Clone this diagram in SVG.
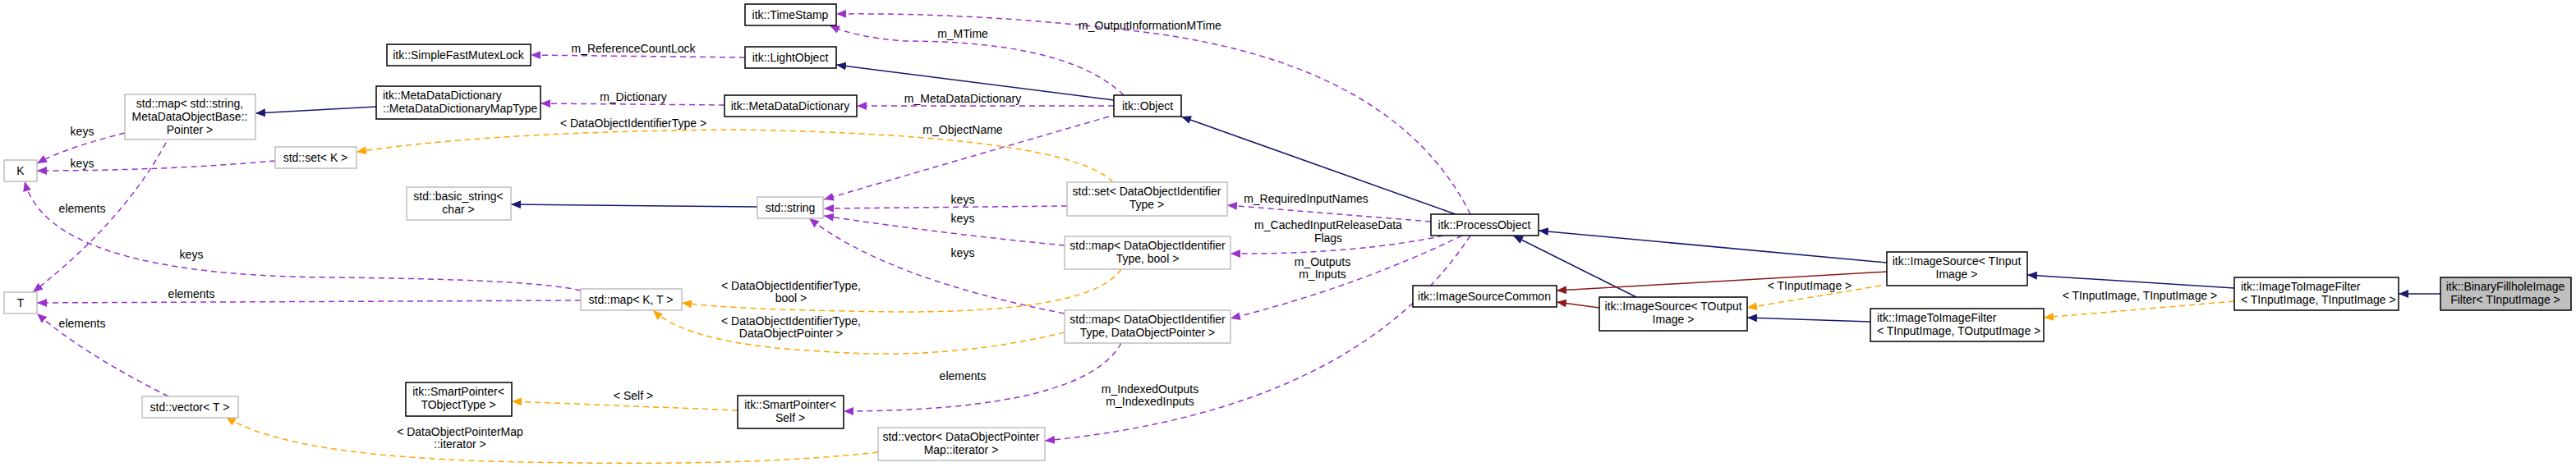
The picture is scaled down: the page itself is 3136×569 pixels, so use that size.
<svg xmlns="http://www.w3.org/2000/svg" width="3136" height="569" viewBox="0 0 3136 569">
<style>
text{font-family:"Liberation Sans",Arial,sans-serif;font-size:14px;fill:#000}
.n rect{fill:#fff;stroke:#000;stroke-width:1.5}
.g rect{fill:#fff;stroke:#bfbfbf;stroke-width:1.5}
.m{text-anchor:middle}
.e path{fill:none;stroke-width:1.5}
.p{stroke:#9a32cd;stroke-dasharray:7,5}
.o{stroke:#ffa500;stroke-dasharray:7,5}
.b{stroke:#191970}
.r{stroke:#8b1a1a}
</style>
<defs>
<marker id="ap" markerWidth="12" markerHeight="10" refX="12" refY="5" orient="auto" markerUnits="userSpaceOnUse"><path d="M0,0L12,5L0,10z" fill="#9a32cd"/></marker>
<marker id="ao" markerWidth="12" markerHeight="10" refX="12" refY="5" orient="auto" markerUnits="userSpaceOnUse"><path d="M0,0L12,5L0,10z" fill="#ffa500"/></marker>
<marker id="ab" markerWidth="12" markerHeight="10" refX="12" refY="5" orient="auto" markerUnits="userSpaceOnUse"><path d="M0,0L12,5L0,10z" fill="#191970"/></marker>
<marker id="ar" markerWidth="12" markerHeight="10" refX="12" refY="5" orient="auto" markerUnits="userSpaceOnUse"><path d="M0,0L12,5L0,10z" fill="#8b1a1a"/></marker>
</defs>
<g id="edges" class="e">
<path class="p" marker-end="url(#ap)" d="M907,70 L646,67"/>
<path class="b" marker-end="url(#ab)" d="M1356,122 L1018,79"/>
<path class="p" marker-end="url(#ap)" d="M1368,116 Q1300,50 1100,50 Q1040,45 1010,31"/>
<path class="p" marker-end="url(#ap)" d="M1790,261 Q1700,80 1400,40 Q1200,15 1018,17"/>
<path class="p" marker-end="url(#ap)" d="M1356,129 L1043,129"/>
<path class="p" marker-end="url(#ap)" d="M882,128 L658,126"/>
<path class="b" marker-end="url(#ab)" d="M458,130 L311,138"/>
<path class="p" marker-end="url(#ap)" d="M152,162 Q80,180 45,199"/>
<path class="p" marker-end="url(#ap)" d="M202,174 Q150,270 40,356"/>
<path class="p" marker-end="url(#ap)" d="M335,196 Q200,208 45,208"/>
<path class="o" marker-end="url(#ao)" d="M1355,222 Q1300,165 900,158 Q600,160 434,185"/>
<path class="p" marker-end="url(#ap)" d="M1350,142 Q1150,200 1003,243"/>
<path class="b" marker-end="url(#ab)" d="M922,252 L622,249"/>
<path class="p" marker-end="url(#ap)" d="M1299,251 L1003,254"/>
<path class="p" marker-end="url(#ap)" d="M1296,299 Q1150,285 1003,263"/>
<path class="p" marker-end="url(#ap)" d="M1296,382 Q1080,340 985,266"/>
<path class="p" marker-end="url(#ap)" d="M707,354 Q650,340 400,338 Q60,335 30,221"/>
<path class="p" marker-end="url(#ap)" d="M707,366 L45,369"/>
<path class="p" marker-end="url(#ap)" d="M205,483 Q100,430 45,382"/>
<path class="o" marker-end="url(#ao)" d="M1365,328 Q1330,380 1100,380 Q900,378 830,369"/>
<path class="o" marker-end="url(#ao)" d="M1296,405 Q1150,440 1000,428 Q840,420 795,378"/>
<path class="p" marker-end="url(#ap)" d="M1365,418 Q1320,500 1027,501"/>
<path class="o" marker-end="url(#ao)" d="M898,500 L623,489"/>
<path class="o" marker-end="url(#ao)" d="M1069,551 Q900,570 600,562 Q350,555 275,508"/>
<path class="p" marker-end="url(#ap)" d="M1790,287 Q1650,500 1272,537"/>
<path class="p" marker-end="url(#ap)" d="M1742,270 L1494,250"/>
<path class="p" marker-end="url(#ap)" d="M1757,287 Q1650,310 1498,309"/>
<path class="p" marker-end="url(#ap)" d="M1780,287 Q1650,350 1498,388"/>
<path class="b" marker-end="url(#ab)" d="M1772,261 L1438,142"/>
<path class="b" marker-end="url(#ab)" d="M2297,320 L1873,281"/>
<path class="b" marker-end="url(#ab)" d="M1992,362 L1842,287"/>
<path class="r" marker-end="url(#ar)" d="M2297,331 L1895,354"/>
<path class="r" marker-end="url(#ar)" d="M1947,375 L1895,368"/>
<path class="o" marker-end="url(#ao)" d="M2290,348 L2127,375"/>
<path class="b" marker-end="url(#ab)" d="M2277,392 L2127,387"/>
<path class="b" marker-end="url(#ab)" d="M2720,351 L2468,335"/>
<path class="o" marker-end="url(#ao)" d="M2720,367 L2488,387"/>
<path class="b" marker-end="url(#ab)" d="M2971,358 L2920,358"/>
<g class="m">
<text x="771" y="64">m_ReferenceCountLock</text>
<text x="1172" y="46">m_MTime</text>
<text x="1400" y="36">m_OutputInformationMTime</text>
<text x="1172" y="125">m_MetaDataDictionary</text>
<text x="771" y="123">m_Dictionary</text>
<text x="100" y="165">keys</text>
<text x="100" y="259">elements</text>
<text x="100" y="204">keys</text>
<text x="771" y="155">&lt; DataObjectIdentifierType &gt;</text>
<text x="1172" y="163">m_ObjectName</text>
<text x="1172" y="248">keys</text>
<text x="1172" y="271">keys</text>
<text x="1172" y="313">keys</text>
<text x="233" y="315">keys</text>
<text x="233" y="363">elements</text>
<text x="100" y="399">elements</text>
<text x="963" y="353">&lt; DataObjectIdentifierType,</text>
<text x="963" y="368">bool &gt;</text>
<text x="963" y="396">&lt; DataObjectIdentifierType,</text>
<text x="963" y="411">DataObjectPointer &gt;</text>
<text x="1172" y="463">elements</text>
<text x="771" y="487">&lt; Self &gt;</text>
<text x="560" y="531">&lt; DataObjectPointerMap</text>
<text x="560" y="546">::iterator &gt;</text>
<text x="1400" y="479">m_IndexedOutputs</text>
<text x="1400" y="494">m_IndexedInputs</text>
<text x="1590" y="247">m_RequiredInputNames</text>
<text x="1617" y="279">m_CachedInputReleaseData</text>
<text x="1617" y="295">Flags</text>
<text x="1610" y="324">m_Outputs</text>
<text x="1610" y="339">m_Inputs</text>
<text x="2203" y="353">&lt; TInputImage &gt;</text>
<text x="2605" y="365">&lt; TInputImage, TInputImage &gt;</text>
</g>
</g>
<g id="timestamp" class="n"><rect x="907" y="5" width="111" height="26"/><text class="m" x="962" y="23">itk::TimeStamp</text></g>
<g id="mutex" class="n"><rect x="471" y="54" width="175" height="26"/><text class="m" x="558" y="72">itk::SimpleFastMutexLock</text></g>
<g id="lightobject" class="n"><rect x="907" y="57" width="111" height="26"/><text class="m" x="962" y="75">itk::LightObject</text></g>
<g id="maptype" class="n"><rect x="458" y="105" width="200" height="40"/><text x="466" y="121">itk::MetaDataDictionary</text><text x="466" y="137">::MetaDataDictionaryMapType</text></g>
<g id="mdd" class="n"><rect x="882" y="116" width="161" height="26"/><text class="m" x="962" y="134">itk::MetaDataDictionary</text></g>
<g id="object" class="n"><rect x="1356" y="116" width="82" height="26"/><text class="m" x="1397" y="134">itk::Object</text></g>
<g id="mapstring" class="g"><rect x="152" y="115" width="159" height="55"/><text class="m" x="231" y="131">std::map&lt; std::string,</text><text class="m" x="231" y="147">MetaDataObjectBase::</text><text class="m" x="231" y="163">Pointer &gt;</text></g>
<g id="K" class="g"><rect x="5" y="195" width="40" height="26"/><text class="m" x="25" y="213">K</text></g>
<g id="setK" class="g"><rect x="335" y="179" width="99" height="26"/><text class="m" x="384" y="197">std::set&lt; K &gt;</text></g>
<g id="basicstring" class="g"><rect x="495" y="228" width="127" height="40"/><text class="m" x="558" y="244">std::basic_string&lt;</text><text class="m" x="558" y="260">char &gt;</text></g>
<g id="string" class="g"><rect x="922" y="240" width="80" height="26"/><text class="m" x="962" y="258">std::string</text></g>
<g id="setdoit" class="g"><rect x="1299" y="222" width="195" height="41"/><text class="m" x="1396" y="238">std::set&lt; DataObjectIdentifier</text><text class="m" x="1396" y="254">Type &gt;</text></g>
<g id="mapbool" class="g"><rect x="1296" y="288" width="202" height="40"/><text class="m" x="1397" y="304">std::map&lt; DataObjectIdentifier</text><text class="m" x="1397" y="320">Type, bool &gt;</text></g>
<g id="T" class="g"><rect x="5" y="356" width="40" height="26"/><text class="m" x="25" y="374">T</text></g>
<g id="mapKT" class="g"><rect x="707" y="352" width="123" height="26"/><text class="m" x="768" y="370">std::map&lt; K, T &gt;</text></g>
<g id="mapdop" class="g"><rect x="1296" y="378" width="202" height="40"/><text class="m" x="1397" y="394">std::map&lt; DataObjectIdentifier</text><text class="m" x="1397" y="410">Type, DataObjectPointer &gt;</text></g>
<g id="vectorT" class="g"><rect x="173" y="483" width="117" height="26"/><text class="m" x="231" y="501">std::vector&lt; T &gt;</text></g>
<g id="spobj" class="n"><rect x="494" y="466" width="129" height="41"/><text class="m" x="558" y="482">itk::SmartPointer&lt;</text><text class="m" x="558" y="498">TObjectType &gt;</text></g>
<g id="spself" class="n"><rect x="898" y="482" width="129" height="40"/><text class="m" x="962" y="498">itk::SmartPointer&lt;</text><text class="m" x="962" y="514">Self &gt;</text></g>
<g id="vectoriter" class="g"><rect x="1069" y="521" width="203" height="40"/><text class="m" x="1170" y="537">std::vector&lt; DataObjectPointer</text><text class="m" x="1170" y="553">Map::iterator &gt;</text></g>
<g id="processobject" class="n"><rect x="1742" y="261" width="131" height="26"/><text class="m" x="1807" y="279">itk::ProcessObject</text></g>
<g id="isc" class="n"><rect x="1720" y="348" width="175" height="26"/><text class="m" x="1807" y="366">itk::ImageSourceCommon</text></g>
<g id="isout" class="n"><rect x="1947" y="362" width="180" height="41"/><text class="m" x="2037" y="378">itk::ImageSource&lt; TOutput</text><text class="m" x="2037" y="394">Image &gt;</text></g>
<g id="isin" class="n"><rect x="2297" y="307" width="171" height="41"/><text class="m" x="2382" y="323">itk::ImageSource&lt; TInput</text><text class="m" x="2382" y="339">Image &gt;</text></g>
<g id="itio" class="n"><rect x="2277" y="376" width="211" height="40"/><text x="2285" y="392">itk::ImageToImageFilter</text><text x="2285" y="408">&lt; TInputImage, TOutputImage &gt;</text></g>
<g id="itii" class="n"><rect x="2720" y="338" width="200" height="40"/><text x="2728" y="354">itk::ImageToImageFilter</text><text x="2728" y="370">&lt; TInputImage, TInputImage &gt;</text></g>
<g id="binfill" class="n"><rect x="2971" y="338" width="159" height="40" style="fill:#bfbfbf"/><text class="m" x="3050" y="354">itk::BinaryFillholeImage</text><text class="m" x="3050" y="370">Filter&lt; TInputImage &gt;</text></g>
</svg>
